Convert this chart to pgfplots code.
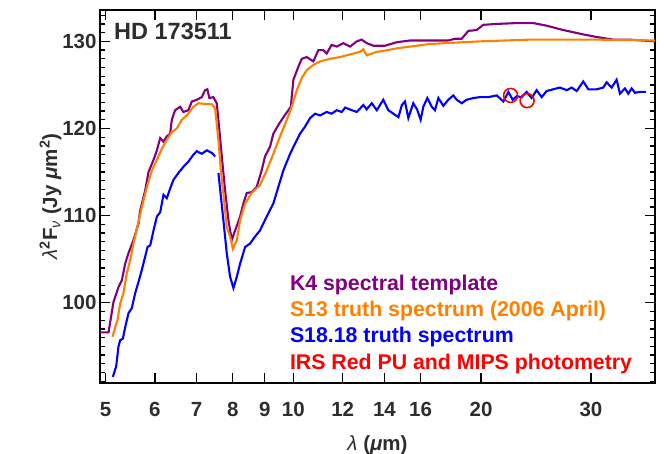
\documentclass[border=0pt]{standalone}
\usepackage{fontspec}
\setmainfont{Liberation Sans}
\usepackage{pgfplots}
\pgfplotsset{compat=1.18}
\definecolor{kpurple}{RGB}{128,0,128}
\definecolor{korange}{RGB}{255,128,0}
\definecolor{kblue}{RGB}{0,0,255}
\definecolor{kred}{RGB}{255,0,0}
\definecolor{txt}{RGB}{45,45,45}
\begin{document}
\begin{tikzpicture}
\begin{axis}[
  scale only axis, width=555pt, height=373pt,
  xmode=log, xmin=4.9, xmax=38, ymin=90.8, ymax=133.6,
  xtick={5,6,7,8,9,10,12,14,16,20,30},
  xticklabels={5,6,7,8,9,10,12,14,16,20,30},
  minor xtick={},
  ytick={100,110,120,130},
  minor ytick={91,92,...,133},
  tick align=inside,
  major tick length=10pt, minor tick length=5pt,
  axis line style={line width=1.5pt},
  every tick/.style={black, line width=1.3pt},
  /pgf/number format/assume math mode=true,
  tick label style={font=\fontsize{20.5}{20.5}\selectfont\bfseries, text=txt},
  xticklabel style={yshift=-16pt},
  log ticks with fixed point,
  xlabel={{\mdseries\itshape λ} (\textit{μ}m)},
  ylabel={{\mdseries\itshape λ}\textsuperscript{2}F\textsubscript{\mdseries\itshape ν} (Jy \textit{μ}m\textsuperscript{2})},
  label style={font=\fontsize{20.5}{20.5}\selectfont\bfseries, text=txt},
  xlabel style={yshift=-12pt},
  ylabel style={yshift=-6pt},
  clip=true,
]
\addplot[kpurple, line width=2.1pt] coordinates {
(4.90,96.6)(5.056,96.6)(5.150,100.1)(5.246,101.8)(5.312,102.6)(5.377,104.5)(5.443,105.7)(5.544,107.2)(5.648,109.1)(5.683,110.6)(5.789,112.9)(5.860,115.0)(5.970,116.4)(6.045,117.5)(6.119,118.9)(6.194,118.5)(6.270,119.1)(6.347,119.4)(6.387,121.0)(6.465,122.1)(6.585,122.5)(6.666,121.9)(6.790,122.1)(6.876,123.1)(7.004,123.3)(7.134,123.6)(7.222,124.4)(7.283,124.5)(7.337,123.5)(7.447,123.6)(7.540,122.9)(7.586,121.0)(7.682,116.8)(7.776,112.9)(7.871,109.5)(7.970,107.2)(8.068,108.3)(8.218,109.9)(8.318,111.4)(8.422,112.6)(8.577,112.7)(8.737,113.3)(8.899,115.2)(9.009,116.8)(9.177,117.9)(9.290,119.4)(9.463,120.4)(9.641,121.3)(9.821,122.1)(9.908,122.5)(10.004,125.6)(10.19,127.1)(10.318,128.0)(10.51,128.2)(10.77,127.7)(10.97,129.0)(11.17,129.0)(11.31,128.6)(11.52,129.6)(11.74,129.4)(12.03,129.8)(12.33,129.4)(12.64,130.0)(12.87,130.2)(13.11,129.8)(13.44,129.5)(14.03,129.5)(14.65,129.9)(15.38,130.1)(16.56,130.1)(17.72,130.1)(18.16,130.3)(18.62,130.3)(19.08,131.2)(19.68,131.3)(20.16,131.9)(21.19,132.0)(22.80,132.1)(24.24,132.1)(25.47,131.8)(27.08,131.3)(29.16,130.8)(30.64,130.5)(32.57,130.2)(34.64,130.2)(38.0,130.0)
};
\addplot[korange, line width=2.1pt] coordinates {
(5.131,96.1)(5.182,97.2)(5.226,98.0)(5.278,99.9)(5.342,101.1)(5.410,103.4)(5.477,104.9)(5.544,106.8)(5.614,108.5)(5.719,111.0)(5.826,113.3)(5.935,115.2)(6.045,116.4)(6.158,117.7)(6.270,118.7)(6.387,119.6)(6.505,120.0)(6.627,121.0)(6.750,121.5)(6.917,122.5)(7.046,122.9)(7.268,122.8)(7.403,122.8)(7.494,122.3)(7.586,118.7)(7.654,115.2)(7.747,111.8)(7.824,108.7)(7.920,107.6)(8.000,106.2)(8.119,107.2)(8.218,109.5)(8.371,111.4)(8.577,112.6)(8.843,113.5)(9.066,115.2)(9.290,117.1)(9.523,119.1)(9.763,121.0)(9.945,122.5)(10.13,124.4)(10.318,125.8)(10.51,126.7)(10.77,127.3)(11.04,127.7)(11.45,128.0)(11.88,128.2)(12.48,128.6)(12.79,128.8)(12.95,129.1)(13.11,128.4)(13.61,128.8)(13.93,128.9)(14.65,129.2)(16.56,129.7)(19.92,130.0)(23.95,130.2)(30.64,130.2)(38.0,130.1)
};
\addplot[kblue, line width=2.1pt] coordinates {
(5.138,91.5)(5.201,92.7)(5.246,95.0)(5.278,95.7)(5.332,95.9)(5.377,97.2)(5.443,98.8)(5.511,99.4)(5.579,101.1)(5.648,102.4)(5.719,103.8)(5.789,105.3)(5.839,106.4)(5.898,106.6)(5.970,108.3)(6.045,109.9)(6.119,110.4)(6.194,112.4)(6.270,112.0)(6.347,113.1)(6.425,114.1)(6.544,114.9)(6.666,115.6)(6.790,116.2)(6.917,117.0)(7.004,117.4)(7.134,117.1)(7.268,117.5)(7.403,117.2)(7.494,116.8)
};
\addplot[kblue, line width=2.1pt] coordinates {
(7.586,114.9)(7.727,109.5)(7.824,105.7)(7.920,103.0)(8.018,101.7)(8.119,103.0)(8.218,104.5)(8.371,106.4)(8.524,106.8)(8.683,107.6)(8.843,108.3)(9.066,109.9)(9.290,111.4)(9.463,113.3)(9.641,115.2)(9.883,117.1)(10.07,118.3)(10.25,119.4)(10.44,120.2)(10.64,121.2)(10.84,121.7)(11.04,121.5)(11.31,121.9)(11.52,121.7)(11.74,122.1)(11.96,121.9)(12.11,122.4)(12.41,122.1)(12.64,121.9)(12.95,122.7)(13.11,122.2)(13.36,122.9)(13.61,122.1)(13.94,123.3)(14.20,122.1)(14.47,121.7)(14.74,121.3)(14.93,122.7)(15.10,123.1)(15.29,121.2)(15.57,122.9)(15.79,122.2)(16.00,121.0)(16.16,122.5)(16.40,123.5)(16.67,122.5)(16.87,122.1)(17.08,123.5)(17.40,122.6)(17.72,123.3)(18.05,123.8)(18.28,123.3)(18.62,122.9)(18.96,123.3)(19.44,123.5)(19.92,123.6)(20.54,123.6)(21.19,123.8)(21.71,123.1)(22.12,124.2)(22.47,123.3)(22.80,123.7)(23.23,123.6)(23.66,124.2)(24.10,123.5)(24.55,124.4)(25.01,123.6)(25.47,124.3)(26.10,124.5)(26.76,124.7)(27.43,124.4)(27.94,124.7)(28.46,124.3)(29.16,125.4)(29.71,124.5)(30.64,124.5)(31.39,124.7)(31.79,125.3)(32.38,124.7)(32.98,125.6)(33.39,124.0)(34.01,124.6)(34.43,124.0)(34.86,124.6)(35.29,124.1)(35.94,124.2)(36.74,124.2)
};
\addplot[only marks, mark=o, mark size=7pt, kred, mark options={line width=1.6pt}] coordinates {
(22.3,123.8)(23.7,123.2)
};
\node[anchor=base west, inner sep=0pt, text=txt, font=\fontsize{23.5}{23.5}\selectfont\bfseries] at (rel axis cs:0.0252,0.9196) {HD 173511};
\node[anchor=base west, inner sep=0pt, text=kpurple, font=\fontsize{21.3}{21.3}\selectfont\bfseries] at (rel axis cs:0.342,0.2493) {K4 spectral template};
\node[anchor=base west, inner sep=0pt, text=korange, font=\fontsize{21.3}{21.3}\selectfont\bfseries] at (rel axis cs:0.342,0.1788) {S13 truth spectrum (2006 April)};
\node[anchor=base west, inner sep=0pt, text=kblue, font=\fontsize{21.3}{21.3}\selectfont\bfseries] at (rel axis cs:0.342,0.1083) {S18.18 truth spectrum};
\node[anchor=base west, inner sep=0pt, text=kred, font=\fontsize{21.3}{21.3}\selectfont\bfseries] at (rel axis cs:0.342,0.0375) {IRS Red PU and MIPS photometry};
\end{axis}
\coordinate (a) at ([shift={(-100pt,-71pt)}]current axis.south west);
\coordinate (b) at ([shift={(9pt,10pt)}]current axis.north east);
\pgfresetboundingbox
\useasboundingbox (a) rectangle (b);
\end{tikzpicture}
\end{document}
